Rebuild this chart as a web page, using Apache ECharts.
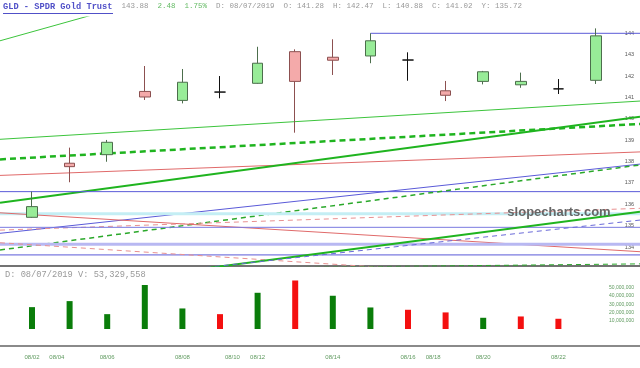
<!DOCTYPE html>
<html><head><meta charset="utf-8">
<script src="https://cdn.jsdelivr.net/npm/echarts@6/dist/echarts.min.js"></script>
<style>html,body{margin:0;padding:0;background:#fff}#c{width:640px;height:368px}</style>
</head><body><div id="c"></div>
<script>
// ---- data ----
const candleIndex = [1,2,3,4,5,6,7,8,9,10,11,12,13,14,15,16];
const opens  = [135.39,137.92,138.32,141.28,140.86,141.25,141.66,143.14,142.88,142.94,142.75,141.31,141.75,141.59,141.40,141.80];
const closes = [135.89,137.76,138.90,141.02,141.71,141.25,142.60,141.75,142.74,143.65,142.75,141.10,142.20,141.75,141.40,143.88];
const lows   = [135.37,137.03,137.99,140.88,140.72,140.96,141.64,139.35,142.05,142.60,141.78,140.83,141.61,141.45,141.16,141.63];
const highs  = [136.59,138.65,139.01,142.47,142.33,142.00,143.37,143.25,143.72,144.00,143.11,141.77,142.24,142.16,141.86,144.23];
const volumes = [26.5e6,33.8e6,18.0e6,53329558,24.9e6,18.0e6,43.9e6,58.8e6,40.3e6,26.1e6,23.3e6,20.1e6,13.6e6,15.2e6,12.4e6,null];
const volumeUp = [true,true,true,true,true,false,true,false,true,true,false,false,true,false,false,true];
const xLabelText = ['08/02','08/04','08/06','08/08','08/10','08/12','08/14','08/16','08/18','08/20','08/22'];
const xLabelPos  = [1,1.66,3,5,6.33,7,9,11,11.67,13,15];
const priceTicks = [134,135,136,137,138,139,140,141,142,143,144];
const volumeTicks = [10e6,20e6,30e6,40e6,50e6];
// trend lines: price at left edge and right edge of the chart
const trendStart = [143.65,139.04,138.10,137.35,136.07,136.59,134.64,133.86,135.56,135.60,134.79,134.92,134.13,133.63,134.20,131.75,131.99,132.90];
const trendEnd   = [152.04,140.83,139.76,138.45,140.10,136.59,137.88,137.84,135.56,133.78,135.81,134.92,134.13,133.63,132.27,135.65,135.26,133.21];
const resistanceFrom = 10, resistancePrice = 144.0;
const header = {sym:'GLD - SPDR Gold Trust', last:'143.88', chg:'2.48', pct:'1.75%', date:'08/07/2019', o:'141.28', h:'142.47', l:'140.88', c:'141.02', y:'135.72'};
const volHeader = {date:'08/07/2019', v:'53,329,558'};

// ---- styles ----
const trendStyle = [
  {c:'#3cc43c',w:1},
  {c:'#3cc43c',w:1},
  {c:'#1fb41f',w:2.5,d:[6,4]},
  {c:'#e06a6a',w:1},
  {c:'#1fb41f',w:2},
  {c:'#5a5ad8',w:1},
  {c:'#5a5ad8',w:1},
  {c:'#2aa82a',w:1.5,d:[5,4]},
  {c:'#c4eef4',w:3},
  {c:'#e06a6a',w:1},
  {c:'#e89090',w:1,d:[5,4]},
  {c:'#7a7ae0',w:1},
  {c:'#b8b8f2',w:3},
  {c:'#5a5ad8',w:1},
  {c:'#e89090',w:1,d:[5,4]},
  {c:'#1fb41f',w:2},
  {c:'#6a6ad8',w:1,d:[5,4]},
  {c:'#2aa82a',w:1,d:[5,4]}
];

const xMin = 1 - 32/37.6, xMax = xMin + 640/37.6;
const pMin = 133.111, pMax = 144.763;

const series = [];
trendStart.forEach((s,i)=>{
  const st = trendStyle[i];
  series.push({type:'line', xAxisIndex:0, yAxisIndex:0, data:[[xMin,s],[xMax,trendEnd[i]]],
    showSymbol:false, silent:true, clip:true, z:1,
    lineStyle:{color:st.c, width:st.w, type: st.d ? st.d : 'solid'}});
});
series.push({type:'line', xAxisIndex:0, yAxisIndex:0, data:[[resistanceFrom,resistancePrice],[xMax,resistancePrice]],
  showSymbol:false, silent:true, clip:true, z:1, lineStyle:{color:'#5a5ad8', width:1}});
series.push({type:'candlestick', xAxisIndex:0, yAxisIndex:0, z:5, barWidth:11,
  data: candleIndex.map((x,i)=>[x, opens[i], closes[i], lows[i], highs[i]]),
  encode:{x:0, y:[1,2,3,4]},
  itemStyle:{color:'#98ec98', color0:'#f4aaaa', borderColor:'#4c6e4c', borderColor0:'#8c5050', borderColorDoji:'#111', borderWidth:1}
});
series.push({type:'bar', xAxisIndex:1, yAxisIndex:1, barWidth:6,
  data: candleIndex.map((x,i)=>({value:[x, volumes[i]], itemStyle:{color: volumeUp[i] ? '#0a7d0a' : '#f41010'}}))
});

const sp = '\u00a0\u00a0';
const chart = echarts.init(document.getElementById('c'), null, {renderer:'canvas'});
chart.setOption({
  animation:false,
  backgroundColor:'#fff',
  grid:[
    {left:0, right:0, top:17, height:249},
    {left:0, right:0, top:275, height:54}
  ],
  xAxis:[
    {type:'value', gridIndex:0, min:xMin, max:xMax, axisLabel:{show:false}, axisTick:{show:false}, splitLine:{show:false},
     axisLine:{show:true, onZero:false, lineStyle:{color:'#444', width:1.5}}},
    {type:'value', gridIndex:1, min:xMin, max:xMax, offset:17, splitLine:{show:false}, axisTick:{show:false},
     axisLine:{show:true, onZero:false, lineStyle:{color:'#8a8a8a', width:2}},
     axisLabel:{customValues:xLabelPos, margin:8, fontSize:6, color:'#5f9a5f', fontFamily:'Liberation Sans',
       formatter:(v)=>{let k=0,b=1e9; xLabelPos.forEach((p,i)=>{const d=Math.abs(p-v); if(d<b){b=d;k=i;}}); return xLabelText[k];}}}
  ],
  yAxis:[
    {type:'value', gridIndex:0, position:'right', min:pMin, max:pMax, splitLine:{show:false}, axisLine:{show:false}, axisTick:{show:false},
     axisLabel:{inside:true, customValues:priceTicks, margin:6, fontSize:5.5, color:'#555', fontFamily:'Liberation Sans', formatter:(v)=>String(Math.round(v))}},
    {type:'value', gridIndex:1, position:'right', min:0, max:65.45e6, splitLine:{show:false}, axisLine:{show:false}, axisTick:{show:false},
     axisLabel:{inside:true, customValues:volumeTicks, margin:6, fontSize:5, color:'#5f9a5f', fontFamily:'Liberation Sans',
       formatter:(v)=>Math.round(v).toLocaleString('en-US')}}
  ],
  series: series,
  graphic:[
    {type:'text', left:3, top:2, z:100, style:{
      text:'{t|'+header.sym+'}'+sp+'{g|'+header.last+sp+'}{c|'+header.chg+sp+header.pct+'}{g|'+sp+'D: '+header.date+sp+'O: '+header.o+sp+'H: '+header.h+sp+'L: '+header.l+sp+'C: '+header.c+sp+'Y: '+header.y+'}',
      rich:{
        t:{fontFamily:'Liberation Mono', fontSize:8.7, fontWeight:'bold', fill:'#5050c8'},
        g:{fontFamily:'Liberation Mono', fontSize:7.5, fill:'#999'},
        c:{fontFamily:'Liberation Mono', fontSize:7.5, fill:'#66bb66'}
      },
      font:'7.5px Liberation Mono'}},
    {type:'line', z:100, shape:{x1:3, y1:13.5, x2:113, y2:13.5}, style:{stroke:'#5050c8', lineWidth:1}},
    {type:'text', left:5, top:270, z:100, style:{text:'D: '+volHeader.date+' V: '+volHeader.v, font:'8.7px Liberation Mono', fill:'#999'}},
    {type:'text', x:559, y:212, z:100, style:{text:'slopecharts.com', font:'bold 13px Liberation Sans', fill:'#666', align:'center', verticalAlign:'middle'}}
  ]
});
</script>
</body></html>
